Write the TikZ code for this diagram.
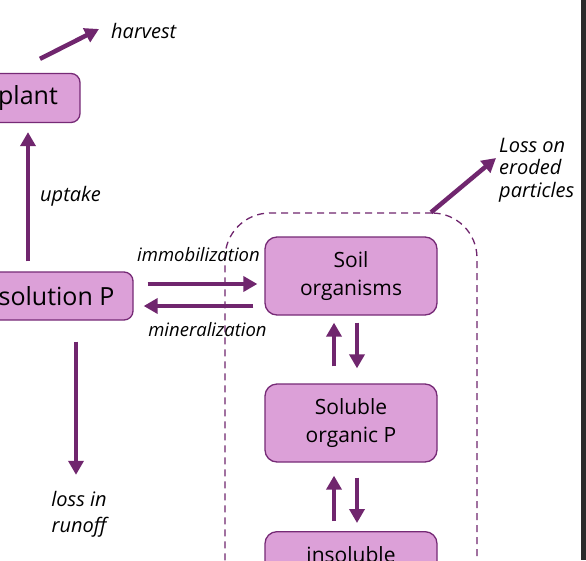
\documentclass[tikz,border=0pt]{standalone}
\usepackage{fontspec}
\setmainfont{Open Sans}
\usetikzlibrary{arrows.meta, positioning, calc}

\definecolor{flowpurple}{RGB}{112,38,110}
\definecolor{stockfill}{RGB}{220,160,216}
\definecolor{stockline}{RGB}{118,42,118}
\definecolor{edgegray}{RGB}{43,43,43}

\begin{document}
\begin{tikzpicture}[
    x=1pt, y=-1pt,
    stock/.style={
        rectangle,
        rounded corners=12pt,
        draw=stockline,
        line width=1.3pt,
        fill=stockfill,
        minimum width=172pt,
        minimum height=78pt,
        align=center,
        inner sep=6pt,
        font=\fontsize{21}{28.5}\selectfont
    },
    bigstock/.style={
        stock,
        rounded corners=9pt,
        minimum height=49pt,
        font=\fontsize{25}{30}\selectfont
    },
    region/.style={
        rectangle,
        rounded corners=45pt,
        draw=flowpurple,
        line width=1.3pt,
        dash pattern=on 7pt off 5pt
    },
    flow/.style={
        -{Triangle[length=14pt, width=15pt]},
        line width=4.5pt,
        flowpurple
    },
    fluxlabel/.style={
        font=\itshape\fontsize{20}{22.5}\selectfont,
        inner sep=0pt,
        align=left
    },
    arrowlabel/.style={
        fluxlabel,
        font=\itshape\fontsize{18.5}{22.5}\selectfont
    }
]

\useasboundingbox (0,0) rectangle (586,560);
\fill[white] (0,0) rectangle (586,560);
\clip (0,0) rectangle (586,560);

% ============================================
% Organic pool (dashed region)
% ============================================
\node[region, minimum width=252pt, minimum height=487pt] (labile) at (351,456.5) {};

% ============================================
% Stocks
% ============================================
\node[bigstock, minimum width=104pt] (plant) at (28,98) {plant};
\node[bigstock, minimum width=153pt, minimum height=48pt] (solution) at (56.5,296) {solution P};

\node[stock] (soil) at (351,276) {Soil\\organisms};
\node[stock] (soluble) at (351,423) {Soluble\\organic P};
\node[stock, anchor=north, text height=25pt, text depth=41pt] (insoluble) at (351,531) {insoluble};

% ============================================
% Labels
% ============================================
\node[fluxlabel, anchor=west] (harvest) at (111,31) {harvest};
\node[fluxlabel, anchor=west] (uptake) at (40,196) {uptake};
\node[arrowlabel] (immob) at (198.5,255) {immobilization};
\node[arrowlabel] (miner) at (207.5,330) {mineralization};
\node[fluxlabel, anchor=west] (erosion) at (499,170) {Loss on\\eroded\\particles};
\node[fluxlabel, align=center, font=\itshape\fontsize{20}{26}\selectfont] (runoff) at (79,514) {loss in\\runoff};

% ============================================
% Flows
% ============================================
\draw[flow] ([shift={(12,-14)}]plant.north) -- ([shift={(-12,-2)}]harvest.west);
\draw[flow, shorten <=10pt, shorten >=9pt] (solution.north -| plant.south) -- (plant.south);

\coordinate (imA) at ([yshift=12pt]solution.east);
\coordinate (minA) at ([yshift=-10pt]solution.east);
\draw[flow, shorten <=14pt, shorten >=7pt] (imA) -- (imA -| soil.west);
\draw[flow, shorten <=11pt, shorten >=10pt] (minA -| soil.west) -- (minA);

\coordinate (runtop) at ([xshift=-3pt]runoff.north);
\draw[flow, shorten <=21pt, shorten >=16pt] (solution.south -| runtop) -- (runtop);

% soil organisms <-> soluble organic P
\draw[flow, shorten <=17pt, shorten >=7pt] ([xshift=-17pt]soluble.north) -- ([xshift=-17pt]soil.south);
\draw[flow, shorten <=7pt, shorten >=15pt] ([xshift=6pt]soil.south) -- ([xshift=6pt]soluble.north);

% soluble organic P <-> insoluble
\draw[flow, shorten <=10pt, shorten >=13pt] ([xshift=-17pt]insoluble.north) -- ([xshift=-17pt]soluble.south);
\draw[flow, shorten <=15pt, shorten >=8pt] ([xshift=6pt]soluble.south) -- ([xshift=6pt]insoluble.north);

% erosion loss
\draw[flow] ([xshift=80pt]labile.north) -- ([shift={(-3,-12)}]erosion.west);

% right window edge
\fill[edgegray] (581,0) rectangle (586,560);

\end{tikzpicture}
\end{document}
